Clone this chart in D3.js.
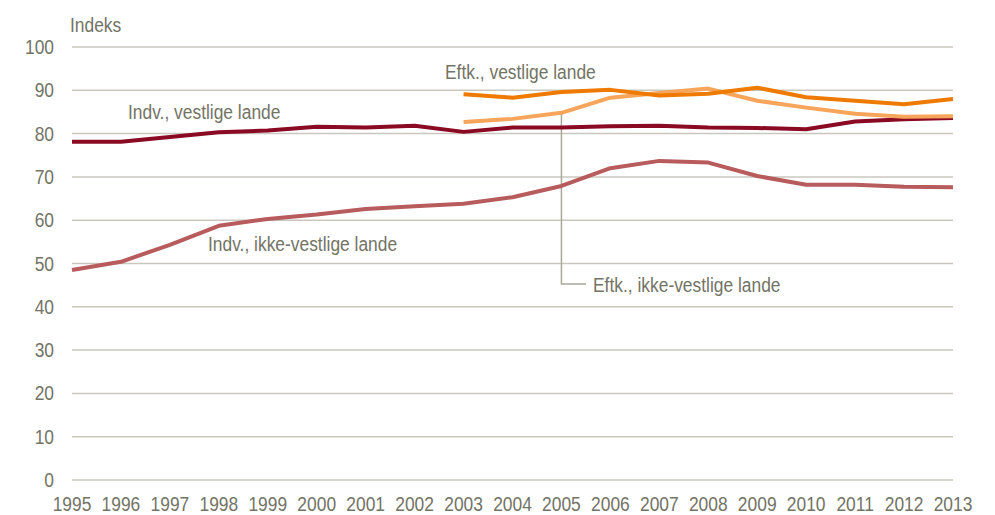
<!DOCTYPE html>
<html><head><meta charset="utf-8">
<script src="https://cdn.jsdelivr.net/npm/d3@7"></script>
<style>
body{margin:0;background:#fff;}
svg{display:block;font-family:"Liberation Sans",Arial,sans-serif;}
</style></head><body>
<svg id="c" width="995" height="515"></svg>
<script>
const years = [1995,1996,1997,1998,1999,2000,2001,2002,2003,2004,2005,2006,2007,2008,2009,2010,2011,2012,2013];
const yTicks = [0,10,20,30,40,50,60,70,80,90,100];
const indvVestlige = [78.1,78.1,79.2,80.3,80.7,81.6,81.4,81.8,80.4,81.4,81.4,81.7,81.8,81.4,81.3,81.0,82.8,83.3,83.6];
const indvIkkeVestlige = [48.5,50.4,54.3,58.7,60.3,61.3,62.6,63.2,63.8,65.3,67.9,72.0,73.7,73.3,70.2,68.2,68.2,67.7,67.6];
const eftkVestlige = [null,null,null,null,null,null,null,null,89.1,88.3,89.6,90.1,88.8,89.2,90.6,88.4,87.6,86.8,88.0];
const eftkIkkeVestlige = [null,null,null,null,null,null,null,null,82.7,83.4,84.8,88.3,89.4,90.4,87.6,86.0,84.6,83.9,84.0];

const svg = d3.select("#c");
const x = d3.scaleLinear().domain([1995,2013]).range([72,953]);
const y = d3.scaleLinear().domain([0,100]).range([480,47]);
const textCol = "#737366";
const FS = 20, SX = 0.87;

function narrow(sel, anchor){
  sel.attr("transform",d=>`translate(${d.x},${d.y}) scale(${SX},1)`)
    .attr("dy","0.35em").attr("text-anchor",anchor||"start")
    .attr("font-size",FS).attr("fill",textCol).text(d=>d.t);
}

// gridlines
svg.append("g").selectAll("line").data(yTicks).join("line")
  .attr("x1",72).attr("x2",953)
  .attr("y1",d=>y(d)).attr("y2",d=>y(d))
  .attr("stroke","#cac8be").attr("stroke-width",1.5);

// y tick labels
svg.append("g").selectAll("text").data(yTicks.map(v=>({t:v,x:54,y:y(v)}))).join("text")
  .call(narrow,"end");

// x tick labels
svg.append("g").selectAll("text").data(years.map(v=>({t:v,x:x(v),y:504}))).join("text")
  .call(narrow,"middle");

svg.append("g").selectAll("text").data([{t:"Indeks",x:70,y:25}]).join("text").call(narrow);

// leader line for Eftk., ikke-vestlige lande
const i2005 = years.indexOf(2005);
svg.append("path")
  .attr("d",`M${x(2005)},${y(eftkIkkeVestlige[i2005])}V284H586`)
  .attr("fill","none").attr("stroke","#a9a899").attr("stroke-width",1.5);

const line = d3.line().defined(d=>d[1]!=null).x(d=>x(d[0])).y(d=>y(d[1]));
const series = [
  {vals:indvIkkeVestlige, color:"#b85b5c"},
  {vals:indvVestlige, color:"#8a0a24"},
  {vals:eftkIkkeVestlige, color:"#f7a55b"},
  {vals:eftkVestlige, color:"#ef7a00"}
];
series.forEach(s=>{
  svg.append("path").datum(years.map((yr,i)=>[yr,s.vals[i]]))
    .attr("d",line).attr("fill","none").attr("stroke",s.color)
    .attr("stroke-width",4).attr("stroke-linejoin","round");
});

// labels
const labels = [
  {t:"Indv., vestlige lande", x:128, y:112},
  {t:"Indv., ikke-vestlige lande", x:208, y:244},
  {t:"Eftk., vestlige lande", x:445, y:72},
  {t:"Eftk., ikke-vestlige lande", x:593, y:285}
];
svg.append("g").selectAll("text").data(labels).join("text").call(narrow);
</script>
</body></html>
